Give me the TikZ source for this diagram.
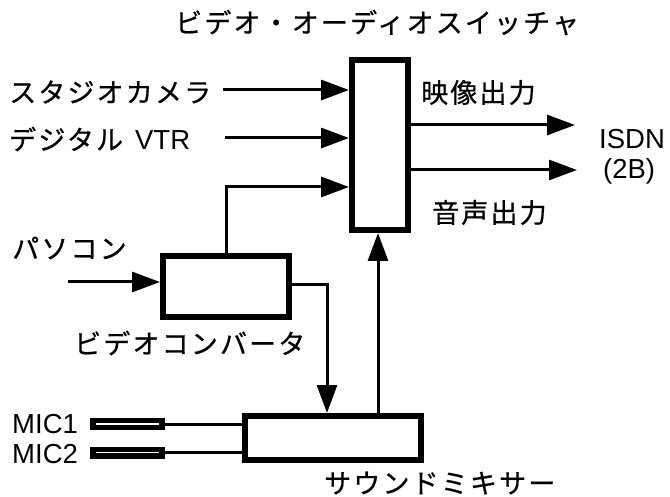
\documentclass[tikz,border=0pt]{standalone}
\usepackage{fontspec}
\setmainfont{Liberation Sans}
\newfontfamily\jp[LetterSpace=8, FakeBold=0.6]{Noto Sans CJK JP}
\usetikzlibrary{arrows.meta}
\newcommand{\jpf}{\jp\fontsize{27}{32}\selectfont}
\begin{document}
\begin{tikzpicture}[x=1pt,y=-1pt,
  jt/.style={inner sep=0, anchor=west, font=\jpf},
  lt/.style={inner sep=0, anchor=west, font=\fontsize{27.5}{32}\selectfont},
  box/.style={draw, line width=6pt, outer sep=3pt, inner sep=0},
  conn/.style={line width=3pt},
  arr/.style={conn, -{Triangle[length=28pt,width=20pt]}},
  micbar/.style={fill=black, inner sep=0, outer sep=0, minimum width=75pt, minimum height=12pt},
]
\useasboundingbox (0,0) rectangle (670,497);

% boxes
\node[box, minimum width=56pt, minimum height=170pt] (sw) at (380,145) {};
\node[box, minimum width=126pt, minimum height=61pt] (cv) at (226,286.5) {};
\node[box, minimum width=176pt, minimum height=44pt] (mx) at (333,438) {};

% texts
\node[jt] (title) at (175,22.5) {ビデオ・オーディオスイッチャ};
\node[jt] (cam) at (9,92) {スタジオカメラ};
\node[lt] (vtr) at (9,139) {{\jpf デジタル}\hspace{12pt}VTR};
\node[jt] (vout) at (421,92.5) {映像出力};
\node[jt] (aout) at (432,212.5) {音声出力};
\node[lt] (isdn) at (599,139) {ISDN};
\node[lt] (twob) at (603,171.5) {(2B)};
\node[jt] (pc) at (12,248) {パソコン};
\node[jt] (cvl) at (74,343) {ビデオコンバータ};
\node[jt] (mxl) at (324,483) {サウンドミキサー};
\node[lt] (mic1) at (12,424) {MIC1};
\node[lt] (mic2) at (12,454) {MIC2};

% mic bars
\node[micbar] (m1) at (127.5,424) {};
\node[micbar] (m2) at (127.5,452.5) {};
\draw[white, line width=1.3pt] ([xshift=6pt]m1.west) -- ([xshift=-6pt]m1.east);
\draw[white, line width=1.3pt] ([xshift=6pt]m2.west) -- ([xshift=-6pt]m2.east);
\draw[conn] (m1.east) -- (m1.east -| mx.west);
\draw[conn] (m2.east) -- (m2.east -| mx.west);

% inputs to switcher
\coordinate (c1) at (223,90);
\coordinate (c2) at (225,138);
\coordinate (c3) at (0,187);
\draw[arr] (c1) -- (c1 -| sw.west);
\draw[arr] (c2) -- (c2 -| sw.west);
\draw[arr] (cv.north) |- (c3 -| sw.west);

% outputs
\coordinate (o1) at (575,125);
\coordinate (o2) at (577,170);
\draw[arr] (o1 -| sw.east) -- (o1);
\draw[arr] (o2 -| sw.east) -- (o2);

% pc input
\coordinate (pcin) at (68,282);
\draw[arr] (pcin) -- (pcin -| cv.west);

% converter to mixer
\coordinate (co) at (327,285);
\draw[arr] (co -| cv.east) -- (co) -- (co |- mx.north);

% mixer to switcher
\coordinate (mu) at (378,300);
\draw[arr] (mu |- mx.north) -- (mu |- sw.south);
\end{tikzpicture}
\end{document}
